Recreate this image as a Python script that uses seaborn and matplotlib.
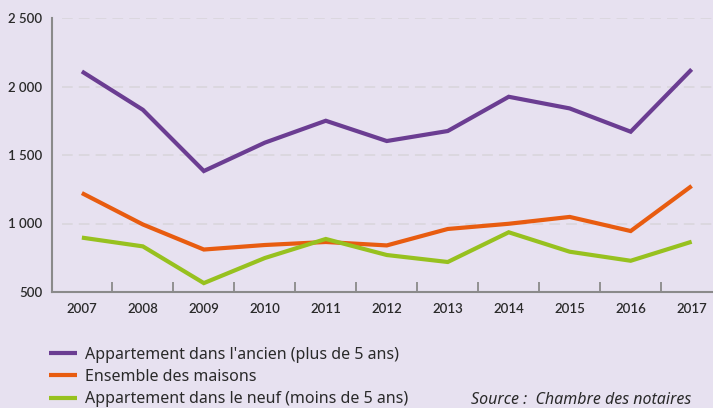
import matplotlib
matplotlib.use("Agg")
import matplotlib.pyplot as plt
import seaborn as sns
import pandas as pd

# Prix moyen au m² (euros) par type de bien
years = [2007, 2008, 2009, 2010, 2011, 2012, 2013, 2014, 2015, 2016, 2017]
ancien = [2110, 1830, 1383, 1590, 1750, 1602, 1675, 1925, 1840, 1670, 2125]
maisons = [1222, 993, 810, 843, 865, 840, 960, 998, 1048, 945, 1274]
neuf = [897, 833, 565, 748, 887, 770, 719, 936, 794, 728, 867]

series_names = [
    "Appartement dans l'ancien (plus de 5 ans)",
    "Ensemble des maisons",
    "Appartement dans le neuf (moins de 5 ans)",
]
colors = ["#6B3D92", "#E85C10", "#97C11F"]

yticks = [500, 1000, 1500, 2000, 2500]
ytick_labels = ["500", "1 000", "1 500", "2 000", "2 500"]

df = pd.DataFrame({
    "annee": years * 3,
    "prix": ancien + maisons + neuf,
    "type": [series_names[0]] * len(years)
    + [series_names[1]] * len(years)
    + [series_names[2]] * len(years),
})

bg = "#E7E1F0"
txt = "#2A2A2A"
sns.set_theme(style="white")
plt.rcParams["font.family"] = ["Lato", "DejaVu Sans"]

fig = plt.figure(figsize=(7.13, 4.08), dpi=100, facecolor=bg)
ax = fig.add_axes([52 / 713, 116 / 408, 1 - 52 / 713, 274 / 408])
ax.set_facecolor(bg)

sns.lineplot(
    data=df, x="annee", y="prix", hue="type", hue_order=series_names,
    palette=colors, linewidth=3.0, ax=ax, legend=False,
    solid_capstyle="butt", solid_joinstyle="miter",
)

ax.set_xlim(2006.51, 2017.35)
ax.set_ylim(500, 2500)

# dashed horizontal grid
for v in yticks[1:]:
    ax.axhline(v, xmin=10 / 661, color="#D8D4DA", lw=1.1, dashes=(7, 4), zorder=0)

ax.set_yticks(yticks)
ax.set_yticklabels(ytick_labels)
ax.set_xticks(years)
ax.set_xticklabels([str(y) for y in years])
ax.set_xticks([y + 0.5 for y in years[:-1]], minor=True)

ax.tick_params(axis="y", direction="in", length=7, width=1.3, color="#8A8A8A",
               labelsize=9.5, pad=7, labelcolor=txt)
ax.tick_params(axis="x", which="major", length=0, labelsize=9.5, pad=8,
               labelcolor=txt)
ax.tick_params(axis="x", which="minor", direction="in", length=7, width=1.3,
               color="#8A8A8A", bottom=True)
for lab in ax.get_xticklabels() + ax.get_yticklabels():
    lab.set_fontweight("semibold")

for side in ["top", "right"]:
    ax.spines[side].set_visible(False)
for side in ["left", "bottom"]:
    ax.spines[side].set_color("#8A8A8A")
    ax.spines[side].set_linewidth(1.5)

ax.set_xlabel("")
ax.set_ylabel("")

# legend below the plot
handles = [plt.Line2D([], [], color=c, lw=3.0, solid_capstyle="butt") for c in colors]
fig.legend(
    handles, series_names, loc="upper left", bbox_to_anchor=(49 / 713, 1 - 347 / 408),
    frameon=False, handlelength=1.75, handletextpad=0.5,
    labelspacing=0.38, borderaxespad=0, borderpad=0,
    prop={"family": ["Noto Sans", "DejaVu Sans"], "size": 11.5},
    labelcolor=txt,
)

fig.text(471 / 713, 1 - 404 / 408, "Source :  Chambre des notaires",
         fontsize=11.5, style="italic", color=txt, va="baseline", ha="left",
         family=["Noto Sans", "DejaVu Sans"])

fig.savefig("out.png", dpi=100, facecolor=bg)
